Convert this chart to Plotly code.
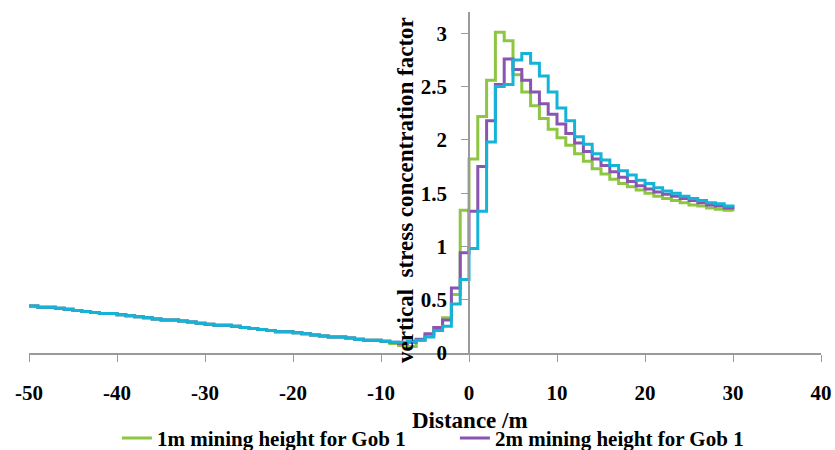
import plotly.graph_objects as go

# Distance from gob edge (m), 1 m sampling
distance = list(range(-50, 31))

# far field (-50 .. -10 m), identical for the three cases
far_field = [0.44, 0.43, 0.43, 0.42, 0.41, 0.40, 0.39, 0.38, 0.37, 0.37,
             0.36, 0.35, 0.34, 0.33, 0.32, 0.31, 0.31, 0.30, 0.29, 0.28,
             0.27, 0.26, 0.26, 0.25, 0.24, 0.23, 0.22, 0.21, 0.20, 0.20,
             0.19, 0.18, 0.17, 0.16, 0.15, 0.15, 0.14, 0.13, 0.12, 0.12,
             0.11]

# near field (-9 .. 30 m)
green_near = [0.09, 0.07, 0.06, 0.12, 0.17, 0.24, 0.33, 0.55, 1.34,
              1.82, 2.22, 2.56, 3.01, 2.93, 2.61, 2.45, 2.32, 2.20, 2.10,
              2.02, 1.95, 1.87, 1.80, 1.73, 1.68, 1.63, 1.59, 1.56, 1.53,
              1.50, 1.47, 1.45, 1.43, 1.41, 1.39, 1.38, 1.36, 1.35, 1.34, 1.33]
purple_near = [0.10, 0.09, 0.10, 0.13, 0.18, 0.24, 0.31, 0.61, 0.94,
               1.33, 1.75, 2.18, 2.52, 2.76, 2.66, 2.56, 2.45, 2.34, 2.24,
               2.15, 2.06, 1.97, 1.89, 1.82, 1.76, 1.70, 1.65, 1.61, 1.57,
               1.54, 1.51, 1.49, 1.47, 1.45, 1.43, 1.41, 1.39, 1.38, 1.36, 1.35]
cyan_near = [0.10, 0.10, 0.11, 0.12, 0.15, 0.21, 0.25, 0.46, 0.69,
             0.98, 1.33, 1.98, 2.50, 2.52, 2.75, 2.81, 2.72, 2.60, 2.45,
             2.30, 2.18, 2.03, 1.96, 1.87, 1.81, 1.76, 1.71, 1.67, 1.62,
             1.59, 1.55, 1.52, 1.50, 1.47, 1.45, 1.43, 1.41, 1.40, 1.38, 1.37]

series_names = ["1m mining height for Gob 1", "2m mining height for Gob 1",
                "3m mining height for Gob 1"]
series_values = [far_field + green_near, far_field + purple_near, far_field + cyan_near]
series_colors = ["#8dc641", "#8a55b0", "#14b3d8"]
series_inlegend = [True, True, False]

x_ticks = [-50, -40, -30, -20, -10, 0, 10, 20, 30, 40]
x_ticklabels = ["-50", "-40", "-30", "-20", "-10", "0", "10", "20", "30", "40"]
y_ticks = [0, 0.5, 1, 1.5, 2, 2.5, 3]
y_ticklabels = ["0", "0.5", "1", "1.5", "2", "2.5", "3"]

FONT = "Liberation Serif, Times New Roman, serif"

fig = go.Figure()
for name, vals, col, leg in zip(series_names, series_values, series_colors, series_inlegend):
    fig.add_trace(go.Scatter(x=distance, y=vals, mode="lines", name=name,
                             line=dict(color=col, width=3, shape="hv"),
                             showlegend=leg))

fig.update_layout(
    width=835, height=450,
    margin=dict(l=29, r=14, t=12, b=97, autoexpand=False),
    paper_bgcolor="white", plot_bgcolor="white",
    font=dict(family=FONT, size=20, color="black", weight="bold"),
    xaxis=dict(range=[-50, 40], tickvals=x_ticks, ticktext=x_ticklabels,
               showgrid=False, zeroline=False,
               showline=True, linecolor="#9a9a9a", linewidth=1.5,
               ticks="outside", ticklen=7, tickcolor="#9a9a9a",
               ticklabelstandoff=13,
               tickfont=dict(family=FONT, size=21, color="black", weight="bold")),
    yaxis=dict(range=[0, 3.2], tickvals=y_ticks, ticktext=y_ticklabels,
               showgrid=False, zeroline=False,
               anchor="free", position=50 / 90,
               showline=True, linecolor="#9a9a9a", linewidth=1.5,
               ticks="outside", ticklen=7, tickcolor="#9a9a9a",
               ticklabelstandoff=10,
               tickfont=dict(family=FONT, size=21, color="black", weight="bold")),
    legend=dict(orientation="h", x=0.111, xanchor="left", y=-0.19, yanchor="top",
                entrywidth=293, entrywidthmode="pixels",
                font=dict(family=FONT, size=21, color="black", weight="bold"),
                bgcolor="rgba(0,0,0,0)"),
    annotations=[
        dict(text="vertical\u00a0\u00a0stress concentration factor", x=0, xref="x",
             xshift=-63, y=1.53, yref="y", textangle=-90, showarrow=False,
             font=dict(family=FONT, size=23, color="black", weight="bold")),
        dict(text="Distance /m", x=0, xref="x", xshift=1, y=-0.198, yref="paper",
             yanchor="middle", showarrow=False,
             font=dict(family=FONT, size=23, color="black", weight="bold")),
    ],
)

fig.write_html("out.html")
